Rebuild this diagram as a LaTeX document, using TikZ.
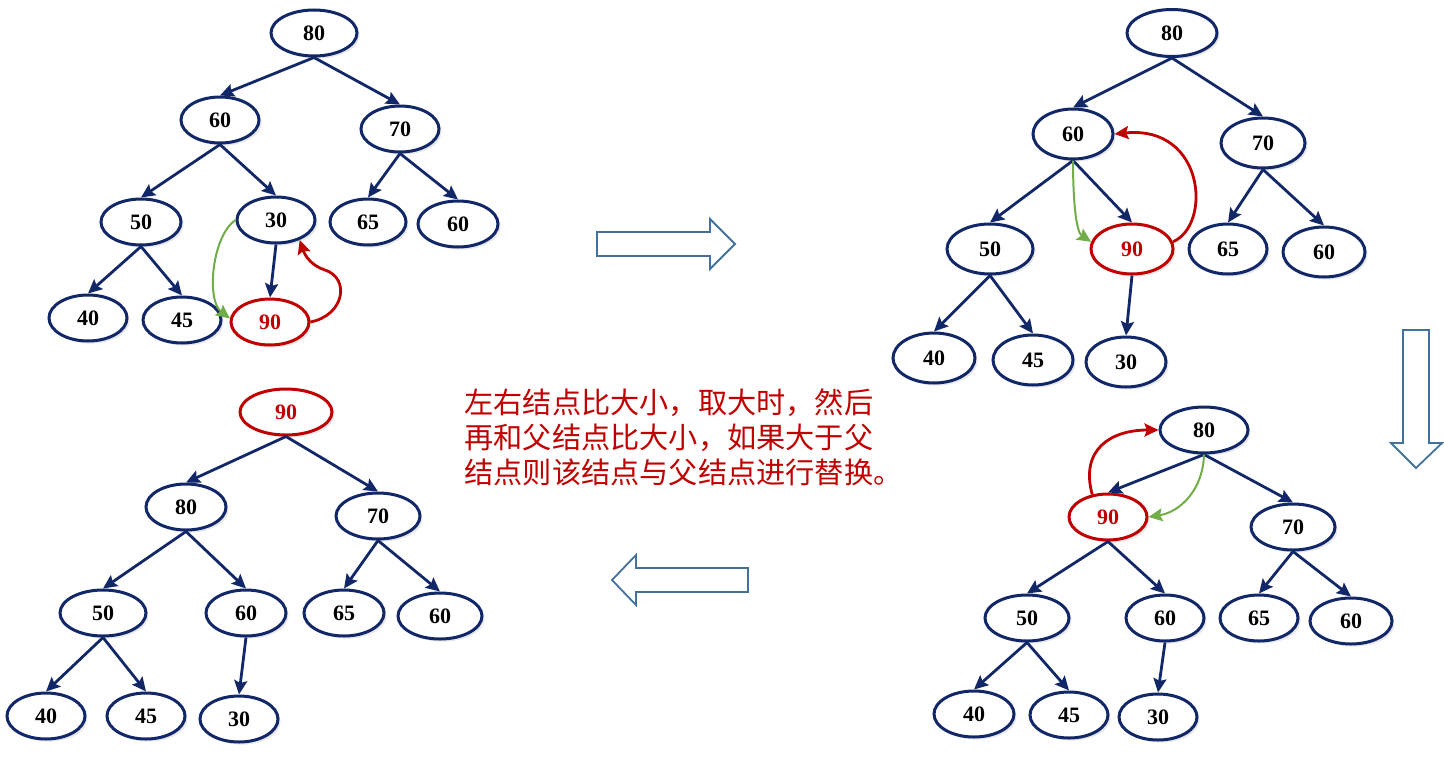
\documentclass[tikz,border=0pt]{standalone}
\usepackage{fontspec}
\setmainfont{Liberation Serif}
\newfontfamily\cjk{Noto Sans CJK SC}
\usetikzlibrary{shapes.geometric,arrows.meta,shadows}
\definecolor{navy}{RGB}{17,39,104}
\definecolor{hred}{RGB}{192,0,0}
\definecolor{hgreen}{RGB}{112,173,71}
\definecolor{ablue}{RGB}{65,113,156}
\begin{document}
\begin{tikzpicture}[x=0.5pt,y=-0.5pt,
 nd/.style={ellipse, draw=navy, line width=1.5pt, fill=white, minimum width=39.5pt, minimum height=23pt, inner sep=0pt,
   font=\fontsize{11}{12}\selectfont\bfseries,
   drop shadow={shadow xshift=1.3pt,shadow yshift=-1.3pt,opacity=0.18}},
 sz/.style 2 args={minimum width=#1*0.5pt, minimum height=#2*0.5pt},
 hn/.style={nd, draw=hred, text=hred},
 ed/.style={draw=navy, line width=1.4pt, -{Stealth[length=7pt,width=6.5pt,inset=1.2pt]}},
 ca/.style={line width=1.4pt, -{Stealth[length=7pt,width=6.5pt,inset=1.2pt]}},
 blk/.style={draw=ablue, line width=0.9pt, fill=white, line join=miter}]
\useasboundingbox (0,0) rectangle (1444,760);

% ---------- Tree 1 ----------
\node[nd,sz={86}{46}] (a80) at (314,33) {80};
\node[nd,sz={78}{46}] (a60) at (220,120) {60};
\node[nd,sz={78}{46}] (a70) at (400,129) {70};
\node[nd,sz={80}{46}] (a50) at (141,222) {50};
\node[nd,sz={78}{46}] (a30) at (276,220) {30};
\node[nd,sz={76}{46}] (a65) at (368,222) {65};
\node[nd,sz={80}{46}] (a60r) at (458,224) {60};
\node[nd,sz={78}{46}] (a40) at (88,318) {40};
\node[nd,sz={78}{46}] (a45) at (182,320) {45};
\node[hn,sz={78}{46}] (a90) at (270,322) {90};
\draw[ed] (a80.south) -- (a60.north);
\draw[ed] (a80.south) -- (a70.north);
\draw[ed] (a60.south) -- (a50.north);
\draw[ed] (a60.south) -- (a30.north);
\draw[ed] (a70.south) -- (a65.north);
\draw[ed] (a70.south) -- (a60r.north);
\draw[ed] (a50.south) -- (a40.north);
\draw[ed] (a50.south) -- (a45.north);
\draw[ed] (a30.south) -- (a90.north);
\draw[ca,draw=hgreen,line width=1pt] (a30.west) .. controls (212,236) and (206,300) .. (a90.175);
\draw[ca,draw=hred] (a90.east) .. controls (345,315) and (350,278) .. (325,270) .. controls (312,266) and (305,256) .. (a30.-40);

% ---------- Tree 2 ----------
\node[nd,sz={90}{47}] (b80) at (1172,33) {80};
\node[nd,sz={80}{50}] (b60) at (1073,134) {60};
\node[nd,sz={84}{50}] (b70) at (1263,143) {70};
\node[nd,sz={86}{50}] (b50) at (990,249) {50};
\node[hn,sz={82}{50}] (b90) at (1132,249) {90};
\node[nd,sz={78}{50}] (b65) at (1228,249) {65};
\node[nd,sz={82}{50}] (b60r) at (1324,252) {60};
\node[nd,sz={82}{50}] (b40) at (934,358) {40};
\node[nd,sz={80}{50}] (b45) at (1033,360) {45};
\node[nd,sz={80}{50}] (b30) at (1126,362) {30};
\draw[ed] (b80.south) -- (b60.north);
\draw[ed] (b80.south) -- (b70.north);
\draw[ed] (b60.south) -- (b50.north);
\draw[ed] (b60.south) -- (b90.north);
\draw[ed] (b70.south) -- (b65.north);
\draw[ed] (b70.south) -- (b60r.north);
\draw[ed] (b50.south) -- (b40.north);
\draw[ed] (b50.south) -- (b45.north);
\draw[ed] (b90.south) -- (b30.north);
\draw[ca,draw=hgreen,line width=1pt] (b60.south) .. controls (1073,200) and (1076,232) .. (b90.170);
\draw[ca,draw=hred] (b90.10) .. controls (1212,225) and (1205,125) .. (b60.east);

% ---------- Tree 3 ----------
\node[nd,sz={88}{46}] (c80) at (1204,430) {80};
\node[hn,sz={78}{46}] (c90) at (1108,517) {90};
\node[nd,sz={84}{46}] (c70) at (1293,527) {70};
\node[nd,sz={84}{46}] (c50) at (1027,618) {50};
\node[nd,sz={78}{46}] (c60) at (1165,618) {60};
\node[nd,sz={78}{46}] (c65) at (1259,618) {65};
\node[nd,sz={82}{46}] (c60r) at (1351,621) {60};
\node[nd,sz={80}{46}] (c40) at (974,714) {40};
\node[nd,sz={78}{46}] (c45) at (1069,715) {45};
\node[nd,sz={78}{46}] (c30) at (1158,717) {30};
\draw[ed] (c80.south) -- (c90.north);
\draw[ed] (c80.south) -- (c70.north);
\draw[ed] (c90.south) -- (c50.north);
\draw[ed] (c90.south) -- (c60.north);
\draw[ed] (c70.south) -- (c65.north);
\draw[ed] (c70.south) -- (c60r.north);
\draw[ed] (c50.south) -- (c40.north);
\draw[ed] (c50.south) -- (c45.north);
\draw[ed] (c60.south) -- (c30.north);
\draw[ca,draw=hred] (c90.125) .. controls (1080,450) and (1110,430) .. (c80.west);
\draw[ca,draw=hgreen,line width=1pt] (c80.south) .. controls (1203,490) and (1180,512) .. (c90.east);

% ---------- Tree 4 ----------
\node[hn,sz={92}{46}] (d90) at (286,412) {90};
\node[nd,sz={80}{46}] (d80) at (186,507) {80};
\node[nd,sz={84}{46}] (d70) at (378,516) {70};
\node[nd,sz={86}{46}] (d50) at (103,613) {50};
\node[nd,sz={80}{46}] (d60) at (246,613) {60};
\node[nd,sz={80}{46}] (d65) at (344,613) {65};
\node[nd,sz={84}{46}] (d60r) at (440,616) {60};
\node[nd,sz={78}{46}] (d40) at (46,716) {40};
\node[nd,sz={78}{46}] (d45) at (146,716) {45};
\node[nd,sz={78}{46}] (d30) at (239,719) {30};
\draw[ed] (d90.south) -- (d80.north);
\draw[ed] (d90.south) -- (d70.north);
\draw[ed] (d80.south) -- (d50.north);
\draw[ed] (d80.south) -- (d60.north);
\draw[ed] (d70.south) -- (d65.north);
\draw[ed] (d70.south) -- (d60r.north);
\draw[ed] (d50.south) -- (d40.north);
\draw[ed] (d50.south) -- (d45.north);
\draw[ed] (d60.south) -- (d30.north);

% ---------- block arrows ----------
\draw[blk] (597,232) -- (710,232) -- (710,219) -- (735,244) -- (710,269) -- (710,256) -- (597,256) -- cycle;
\draw[blk] (1403,330) -- (1429,330) -- (1429,443) -- (1442,443) -- (1416,468) -- (1391,443) -- (1403,443) -- cycle;
\draw[blk] (748,568) -- (636,568) -- (636,555) -- (612,580) -- (636,605) -- (636,592) -- (748,592) -- cycle;

% ---------- text ----------
\node[anchor=north west, align=left, text=hred, inner sep=0pt,
  font=\cjk\fontsize{14.6}{17.5}\selectfont] (txt) at (464,388)
  {左右结点比大小，取大时，然后\\再和父结点比大小，如果大于父\\结点则该结点与父结点进行替换。};
\end{tikzpicture}
\end{document}
